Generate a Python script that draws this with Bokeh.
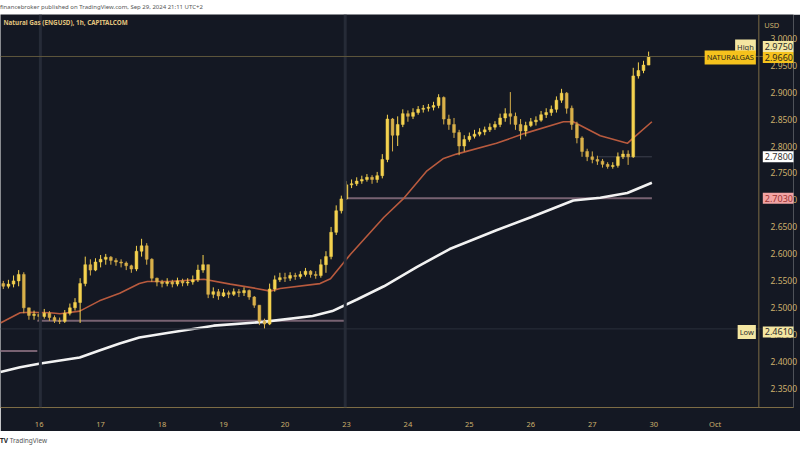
import numpy as np
from bokeh.plotting import figure
from bokeh.models import (ColumnDataSource, FixedTicker, Label, Span, Div,
                          PrintfTickFormatter, Range1d)
from bokeh.layouts import column
from bokeh.embed import file_html
from bokeh.resources import INLINE

# ---------------- data ----------------
day_labels = ["16", "17", "18", "19", "20", "23", "24", "25", "26", "27", "30", "Oct"]
bars_per_day = 12          # 2-hour bars
first_bar = -7             # bar index relative to the Sep 16 session open
first_open = 2.545

close = [2.540, 2.544, 2.550, 2.562, 2.500, 2.486, 2.488,
         2.484, 2.490, 2.482, 2.476, 2.475, 2.490, 2.500, 2.510, 2.545, 2.580, 2.570, 2.585,
         2.590, 2.594, 2.588, 2.585, 2.583, 2.578, 2.572, 2.605, 2.615, 2.590, 2.555, 2.548,
         2.545, 2.548, 2.544, 2.550, 2.546, 2.548, 2.552, 2.570, 2.580, 2.525, 2.530, 2.522,
         2.528, 2.525, 2.530, 2.528, 2.532, 2.520, 2.505, 2.475, 2.470, 2.535, 2.552, 2.556,
         2.555, 2.560, 2.558, 2.562, 2.568, 2.562, 2.560, 2.580, 2.595, 2.640, 2.680, 2.702,
         2.728, 2.730, 2.735, 2.738, 2.742, 2.738, 2.745, 2.775, 2.850, 2.820, 2.840, 2.860,
         2.855, 2.862, 2.868, 2.870, 2.872, 2.875, 2.890, 2.850, 2.840, 2.825, 2.800, 2.812,
         2.818, 2.822, 2.826, 2.830, 2.835, 2.840, 2.852, 2.860, 2.855, 2.840, 2.828, 2.838,
         2.845, 2.848, 2.858, 2.862, 2.868, 2.885, 2.898, 2.870, 2.840, 2.815, 2.790, 2.780,
         2.775, 2.772, 2.766, 2.762, 2.764, 2.780, 2.785, 2.780, 2.930, 2.940, 2.950, 2.966]

high = [2.550, 2.552, 2.560, 2.570, 2.566, 2.500, 2.495,
        2.492, 2.498, 2.494, 2.486, 2.482, 2.496, 2.508, 2.518, 2.555, 2.595, 2.590, 2.592,
        2.598, 2.600, 2.596, 2.592, 2.590, 2.586, 2.580, 2.615, 2.628, 2.620, 2.592, 2.556,
        2.552, 2.555, 2.552, 2.556, 2.554, 2.555, 2.560, 2.580, 2.598, 2.580, 2.538, 2.535,
        2.535, 2.532, 2.536, 2.535, 2.538, 2.534, 2.522, 2.505, 2.480, 2.545, 2.560, 2.565,
        2.565, 2.566, 2.565, 2.568, 2.574, 2.570, 2.568, 2.590, 2.605, 2.650, 2.690, 2.708,
        2.735, 2.738, 2.742, 2.745, 2.748, 2.746, 2.752, 2.785, 2.858, 2.852, 2.855, 2.868,
        2.866, 2.870, 2.874, 2.876, 2.878, 2.882, 2.896, 2.892, 2.858, 2.852, 2.830, 2.820,
        2.825, 2.830, 2.833, 2.836, 2.842, 2.846, 2.860, 2.870, 2.900, 2.862, 2.850, 2.845,
        2.852, 2.855, 2.865, 2.870, 2.875, 2.892, 2.906, 2.900, 2.875, 2.845, 2.818, 2.795,
        2.790, 2.782, 2.776, 2.770, 2.770, 2.788, 2.792, 2.792, 2.945, 2.955, 2.958, 2.975]

low = [2.535, 2.536, 2.538, 2.540, 2.490, 2.478, 2.478,
       2.476, 2.480, 2.476, 2.472, 2.470, 2.472, 2.486, 2.495, 2.472, 2.540, 2.560, 2.568,
       2.575, 2.580, 2.580, 2.578, 2.575, 2.570, 2.565, 2.568, 2.595, 2.580, 2.548, 2.540,
       2.538, 2.540, 2.538, 2.540, 2.540, 2.541, 2.543, 2.548, 2.565, 2.518, 2.518, 2.515,
       2.520, 2.518, 2.522, 2.520, 2.522, 2.515, 2.500, 2.468, 2.461, 2.468, 2.530, 2.548,
       2.548, 2.550, 2.552, 2.554, 2.558, 2.556, 2.554, 2.556, 2.565, 2.590, 2.635, 2.675,
       2.700, 2.722, 2.726, 2.730, 2.734, 2.730, 2.732, 2.740, 2.770, 2.790, 2.800, 2.835,
       2.845, 2.850, 2.858, 2.862, 2.864, 2.866, 2.870, 2.840, 2.830, 2.815, 2.783, 2.790,
       2.808, 2.814, 2.818, 2.820, 2.826, 2.830, 2.835, 2.845, 2.840, 2.830, 2.812, 2.818,
       2.835, 2.838, 2.845, 2.852, 2.856, 2.862, 2.880, 2.860, 2.830, 2.805, 2.780, 2.772,
       2.768, 2.765, 2.760, 2.758, 2.758, 2.760, 2.776, 2.765, 2.778, 2.925, 2.935, 2.950]

# 50-period moving average (orange)
ma50_t = [-0.63, -0.31, -0.15, 0.18, 0.34, 0.66, 0.98, 1.31, 1.63, 1.76, 2.11, 2.68,
          3.11, 3.53, 3.76, 3.92, 4.57, 4.74, 5.07, 5.61, 5.94, 6.31, 6.58, 6.79,
          7.44, 7.89, 8.53, 8.69, 9.13, 9.57, 9.66, 9.97]
ma50_v = [2.472, 2.491, 2.492, 2.491, 2.489, 2.494, 2.513, 2.527, 2.545, 2.549, 2.549, 2.553,
          2.544, 2.536, 2.531, 2.536, 2.545, 2.554, 2.600, 2.668, 2.704, 2.754, 2.777, 2.785,
          2.805, 2.823, 2.845, 2.845, 2.819, 2.805, 2.814, 2.845]
# 200-period moving average (white)
ma200_t = [-0.63, -0.31, 0.02, 0.66, 0.98, 1.31, 1.63, 2.11, 2.84, 3.65, 4.45, 4.77,
           5.18, 5.61, 6.15, 6.68, 7.44, 8.00, 8.69, 9.13, 9.57, 9.97]
ma200_v = [2.381, 2.390, 2.397, 2.408, 2.421, 2.434, 2.445, 2.454, 2.467, 2.474, 2.485, 2.494,
           2.516, 2.540, 2.576, 2.609, 2.644, 2.668, 2.699, 2.704, 2.713, 2.732]

# drawn horizontal levels
level_price = [2.703, 2.476, 2.420]
level_start = [4.97, -0.03, -0.70]
level_end = [9.97, 4.97, -0.03]
marker_level = 2.780
marker_start, marker_end = 9.10, 9.97

price_ticks = [2.35, 2.40, 2.45, 2.50, 2.55, 2.60, 2.65, 2.70, 2.75, 2.80, 2.85, 2.90, 2.95, 3.00]
last_price = 2.966
high_price = 2.975
low_price = 2.461
week_starts = [0.02, 4.98]
symbol = "NATURALGAS"
title_text = "Natural Gas (ENGUSD), 1h, CAPITALCOM"
header_text = "financebroker published on TradingView.com, Sep 29, 2024 21:11 UTC+2"

# ---------------- build ----------------
BG = "#141823"
GOLD = "#cdb06c"
AXIS = "#7d6c45"
FONT = "Noto Sans"

close_a = np.array(close)
open_a = np.concatenate([[first_open], close_a[:-1]])
t = (np.arange(len(close_a)) + first_bar) / bars_per_day
high_a = np.maximum.reduce([np.array(high), open_a, close_a])
low_a = np.minimum.reduce([np.array(low), open_a, close_a])
up = close_a >= open_a
colors = np.where(up, "#f5d24f", "#d9b04a")

src = ColumnDataSource(dict(t=t, o=open_a, c=close_a, h=high_a, l=low_a,
                            top=np.maximum(open_a, close_a), bot=np.minimum(open_a, close_a),
                            col=colors))

FW, FH = 800, 417
X0, X1 = -0.629, 12.274        # visible time span (trading days from Sep 16)
Y0, Y1 = 2.3153, 3.0438        # visible price span
SCALE_X = 11.71                # time position of the price-scale separator

p = figure(width=FW, height=FH, output_backend="svg", toolbar_location=None,
           x_range=Range1d(X0, X1), y_range=Range1d(Y0, Y1),
           y_axis_location="right", min_border_left=0, min_border_top=0,
           min_border_right=0, min_border_bottom=18,
           background_fill_color=BG, border_fill_color=BG, outline_line_color=None)
p.margin = 0
p.xgrid.grid_line_color = None
p.ygrid.grid_line_color = None

for ws in week_starts:
    p.add_layout(Span(location=ws, dimension="height", line_color="#262b37", line_width=3))
p.add_layout(Span(location=low_price, dimension="width", line_color="#2b303c", line_width=1))
p.add_layout(Span(location=last_price, dimension="width", line_color="#5f573c", line_width=1))

p.segment(x0=level_start, y0=level_price, x1=level_end, y1=level_price,
          line_color="#8a7080", line_width=2, line_alpha=0.85)
p.segment(x0=[marker_start], y0=[marker_level], x1=[marker_end], y1=[marker_level],
          line_color="#3c414d", line_width=1)

p.line(ma200_t, ma200_v, line_color="#f2f2f2", line_width=2.6)
p.line(ma50_t, ma50_v, line_color="#b85a3e", line_width=1.6)

p.segment(x0="t", y0="h", x1="t", y1="l", line_color="col", line_width=1, source=src)
p.vbar(x="t", width=0.55 / bars_per_day, top="top", bottom="bot",
       fill_color="col", line_color="col", line_width=0.5, source=src)

# price-scale separator
p.add_layout(Span(location=SCALE_X, dimension="height", line_color=AXIS, line_width=1))

# axes
p.yaxis.ticker = FixedTicker(ticks=price_ticks)
p.yaxis.formatter = PrintfTickFormatter(format="%.4f")
p.yaxis.major_label_text_color = GOLD
p.yaxis.major_label_text_font = FONT
p.yaxis.major_label_text_font_size = "8.5px"
p.yaxis.axis_line_color = None
p.yaxis.major_tick_line_color = None
p.yaxis.minor_tick_line_color = None
p.yaxis.major_label_standoff = -29

p.xaxis.ticker = FixedTicker(ticks=list(range(len(day_labels))))
p.xaxis.major_label_overrides = {i: s for i, s in enumerate(day_labels)}
p.xaxis.major_label_text_color = GOLD
p.xaxis.major_label_text_font = FONT
p.xaxis.major_label_text_font_size = "7.5px"
p.xaxis.axis_line_color = AXIS
p.xaxis.major_tick_line_color = None
p.xaxis.minor_tick_line_color = None
p.xaxis.major_label_standoff = 5

px = (X1 - X0) / FW            # data units per pixel (x)

p.add_layout(Label(x=X0 + 3 * px, y=Y1, y_offset=-8, text=title_text,
                   text_color="#e2c47e", text_font=FONT, text_font_size="6.3px",
                   text_font_style="bold", text_baseline="middle"))
p.add_layout(Label(x=SCALE_X + 13 * px, y=Y1, y_offset=-10, text="USD",
                   text_color=GOLD, text_font=FONT, text_font_size="7.5px",
                   text_baseline="middle", text_align="center"))


def box(text, y, right_side, bg, fg, dy=0):
    if right_side:
        x, align, size = SCALE_X + 4 * px, "left", "9px"
    else:
        x, align, size = SCALE_X - 3 * px, "right", "7.5px"
    p.add_layout(Label(x=x, y=y, y_offset=dy, text=text,
                       text_align=align, text_baseline="middle", text_color=fg,
                       text_font=FONT, text_font_size=size,
                       background_fill_color=bg, padding=2))


box("High", high_price, False, "#f4e6a2", "#2b2b2b", dy=5)
box(f"{high_price:.4f}", high_price, True, "#f4e6a2", "#2b2b2b", dy=5)
box(symbol, last_price, False, "#f5c21d", "#2b2a1a", dy=-1)
box(f"{last_price:.4f}", last_price, True, "#f5c21d", "#2b2a1a", dy=-1)
box(f"{marker_level:.4f}", marker_level, True, "#ffffff", "#333333")
box(f"{level_price[0]:.4f}", level_price[0], True, "#f2a3a3", "#9b3434")
box("Low", low_price, False, "#f4e6a2", "#2b2b2b", dy=-3)
box(f"{low_price:.4f}", low_price, True, "#f4e6a2", "#2b2b2b", dy=-3)

header = Div(text=header_text, width=FW, height=14, margin=0,
             styles={"font-family": "Noto Sans", "font-size": "6px", "color": "#555555",
                     "line-height": "14px", "background": "white", "white-space": "nowrap",
                     "overflow": "hidden"})
footer = Div(text='<b style="color:#222">TV</b> TradingView', width=FW, height=19, margin=0,
             styles={"font-family": "Noto Sans", "font-size": "6.5px", "color": "#555555",
                     "line-height": "19px", "background": "white"})

layout = column(header, p, footer, spacing=0)
open("out.html", "w").write(file_html(layout, INLINE))
